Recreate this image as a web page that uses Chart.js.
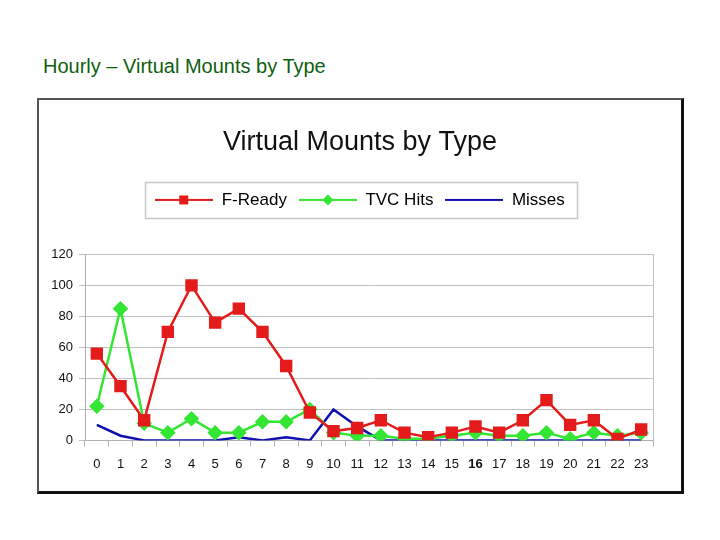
<!DOCTYPE html>
<html>
<head>
<meta charset="utf-8">
<script src="https://cdn.jsdelivr.net/npm/chart.js@4.4.0/dist/chart.umd.min.js"></script>
<style>
  body { margin: 0; background: #fff; font-family: "Liberation Sans", Arial, sans-serif; }
  #heading { position: absolute; left: 43px; top: 55px; font-size: 20px; color: #0f5f0f; }
  #box {
    position: absolute; left: 37px; top: 98px; width: 642px; height: 391px;
    border-top: 2px solid #555; border-left: 2px solid #555;
    border-right: 3px solid #111; border-bottom: 3px solid #111;
  }
  #chart { display: block; }
</style>
</head>
<body>
<div id="heading">Hourly – Virtual Mounts by Type</div>
<div id="box"><canvas id="chart" width="642" height="391"></canvas></div>
<script>
const hours = ['0','1','2','3','4','5','6','7','8','9','10','11','12','13','14','15','16','17','18','19','20','21','22','23'];
const fReady = [56, 35, 13, 70, 100, 76, 85, 70, 48, 18, 6, 8, 13, 5, 2, 5, 9, 5, 13, 26, 10, 13, 1, 7];
const tvcHits = [22, 85, 11, 5, 14, 5, 5, 12, 12, 20, 5, 3, 3, 1, 1, 3, 5, 3, 3, 5, 1, 5, 3, 5];
const misses = [10, 3, 0, 0, 0, 0, 2, 0, 2, 0, 20, 9, 0, 0, 0, 0, 0, 0, 0, 0, 0, 0, 0, 0];
const yTicks = [0, 20, 40, 60, 80, 100, 120];

const RED = '#e41b1b';
const GREEN = '#33e633';
const BLUE = '#1010b0';
const FONT = '"Liberation Sans", Arial';

// small legend swatch: line with marker in the middle
function swatch(color, marker) {
    const c = document.createElement('canvas');
    c.width = 58; c.height = 14;
    const ctx = c.getContext('2d');
    ctx.strokeStyle = color;
    ctx.lineWidth = 2;
    ctx.beginPath(); ctx.moveTo(0, 7); ctx.lineTo(58, 7); ctx.stroke();
    ctx.fillStyle = color;
    if (marker === 'rect') {
        ctx.fillRect(24, 2.5, 9, 9);
    } else if (marker === 'diamond') {
        ctx.beginPath();
        ctx.moveTo(29, 1.5); ctx.lineTo(34.5, 7); ctx.lineTo(29, 12.5); ctx.lineTo(23.5, 7);
        ctx.closePath(); ctx.fill();
    }
    return c;
}

const swatches = [swatch(RED, 'rect'), swatch(GREEN, 'diamond'), swatch(BLUE, null)];

// extra room under the legend, and a thin frame round its items
const legendFrame = {
    id: 'legendFrame',
    beforeLayout(chart) {
        const lg = chart.legend;
        if (lg && !lg._padded) {
            const fit = lg.fit;
            lg.fit = function() { fit.call(this); this.height += 36; };
            lg._padded = true;
        }
    },
    afterDraw(chart) {
        const boxes = chart.legend.legendHitBoxes;
        if (!boxes || !boxes.length) return;
        const left = Math.min(...boxes.map(b => b.left)) - 10;
        const right = Math.max(...boxes.map(b => b.left + b.width)) + 12;
        const mid = boxes[0].top + boxes[0].height / 2;
        const ctx = chart.ctx;
        ctx.save();
        ctx.strokeStyle = '#c8c8c8';
        ctx.lineWidth = 1.5;
        ctx.strokeRect(Math.round(left) + 0.5, Math.round(mid - 18) + 0.5, Math.round(right - left), 36);
        ctx.restore();
    }
};

new Chart(document.getElementById('chart'), {
    type: 'line',
    data: {
        labels: hours,
        datasets: [{
            label: 'F-Ready',
            data: fReady,
            borderColor: RED,
            backgroundColor: RED,
            borderWidth: 2.5,
            pointStyle: 'rect',
            pointRadius: 7,
            pointHoverRadius: 7,
            tension: 0,
        }, {
            label: 'TVC Hits',
            data: tvcHits,
            borderColor: GREEN,
            backgroundColor: GREEN,
            borderWidth: 2.5,
            pointStyle: 'rectRot',
            pointRadius: 6,
            pointHoverRadius: 6,
            tension: 0,
        }, {
            label: 'Misses',
            data: misses,
            borderColor: BLUE,
            backgroundColor: BLUE,
            borderWidth: 2.5,
            pointRadius: 0,
            tension: 0,
        }],
    },
    options: {
        responsive: false,
        animation: false,
        layout: { padding: { left: 0, right: 0, top: 0, bottom: 9 } },
        plugins: {
            title: {
                display: true,
                text: 'Virtual Mounts by Type',
                color: '#111',
                font: { family: FONT, size: 27, weight: 'normal' },
                padding: { top: 26, bottom: 21 },
            },
            legend: {
                display: true,
                labels: {
                    color: '#111',
                    font: { family: FONT, size: 17 },
                    usePointStyle: true,
                    pointStyleWidth: 58,
                    padding: 12,
                    generateLabels(chart) {
                        return chart.data.datasets.map((ds, i) => ({
                            text: ds.label,
                            pointStyle: swatches[i],
                            fillStyle: ds.borderColor,
                            strokeStyle: ds.borderColor,
                            lineWidth: 0,
                            hidden: false,
                            datasetIndex: i,
                        }));
                    },
                },
            },
            tooltip: { enabled: false },
        },
        scales: {
            x: {
                offset: true,
                grid: {
                    display: true,
                    offset: true,
                    drawOnChartArea: false,
                    tickLength: 6,
                    color: '#b0b0b0',
                },
                border: { color: '#b0b0b0' },
                ticks: {
                    color: '#111',
                    padding: 10,
                    maxRotation: 0,
                    autoSkip: false,
                    font: (c) => ({ family: FONT, size: 13, weight: c.index === 16 ? 'bold' : 'normal' }),
                },
            },
            y: {
                min: 0,
                max: 120,
                afterBuildTicks(scale) { scale.ticks = yTicks.map(v => ({ value: v })); },
                afterFit(scale) { scale.width = 46; },
                grid: { color: '#c0c0c0', tickLength: 6 },
                border: { color: '#b0b0b0' },
                ticks: {
                    color: '#111',
                    padding: 6,
                    font: { family: FONT, size: 13 },
                },
            },
            // empty right axis: keeps the gap on the right and draws the plot's right edge
            yRight: {
                position: 'right',
                min: 0,
                max: 120,
                afterFit(scale) { scale.width = 28; },
                grid: { display: false },
                ticks: { display: false },
                border: { color: '#c0c0c0' },
            },
        },
    },
    plugins: [legendFrame],
});
</script>
</body>
</html>
